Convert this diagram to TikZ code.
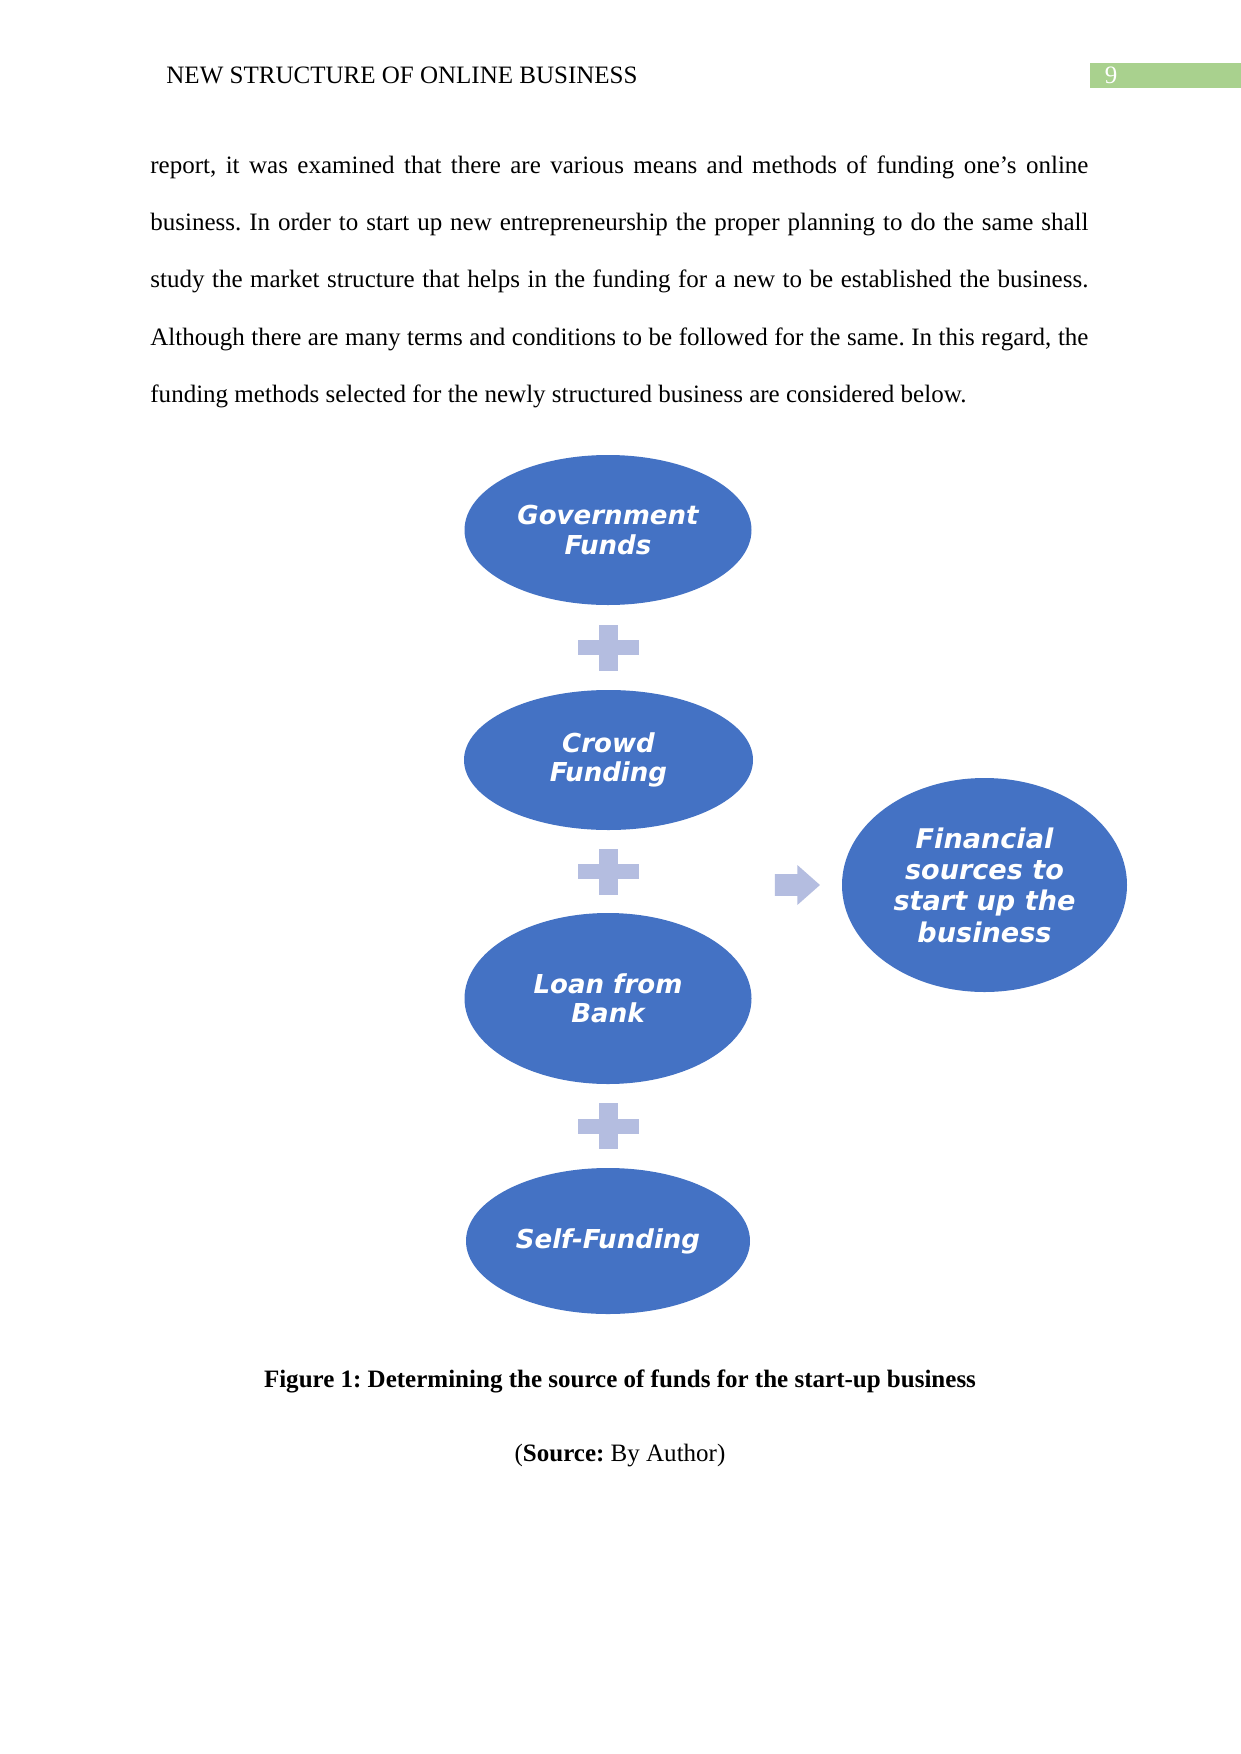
\documentclass[tikz,border=0pt]{standalone}
\usepackage{fontspec}
\setmainfont{Liberation Serif}
\newfontfamily\bubblefont{DejaVu Sans}
\usetikzlibrary{
  calc, % For midpoints between the bubbles
  shapes.geometric, % For the ellipses
  shapes.arrows % For the block arrow
}
\definecolor{bubbleblue}{HTML}{4472C4}
\definecolor{plusblue}{HTML}{B4BDE0}
\definecolor{headgreen}{HTML}{A9D18E}
\frenchspacing

\begin{document}
\begin{tikzpicture}[
      x=0.4797pt, y=-0.4797pt, % Page grid in pixels
      bubble/.style={ellipse, fill=bubbleblue, text=white, inner sep=0pt, align=center,
        font=\fontsize{12.5}{14.1}\bubblefont\bfseries\itshape}, % Funding sources
      bigbubble/.style={bubble, font=\fontsize{13}{15}\bubblefont\bfseries\itshape}, % Result
      plussign/.style={fill=plusblue}, % Style for the plus signs
      bodytext/.style={inner sep=0pt, text width=450pt, align=justify,
        font=\fontsize{12}{27.5}\selectfont}, % Running text
      plain/.style={inner sep=0pt, font=\fontsize{12}{14}\selectfont},
    ]

    % Sizes
    \def\pxu{0.4797pt}

    % Page
    \fill[white] (0,0) rectangle (1241,1754);
    \useasboundingbox (0,0) rectangle (1241,1754);

    % Header
    \node[plain, anchor=west] (title) at (166,75) {NEW STRUCTURE OF ONLINE BUSINESS};
    \fill[headgreen] (1090,63) rectangle (1241,88);
    \node[plain, text=white] (pagenum) at (1111,75) {9};

    % Text
    \node[bodytext, anchor=north west] (para) at (150,155) {report, it was examined that there are various means and methods of funding one's online\linebreak
      business. In order to start up new entrepreneurship the proper planning to do the same shall\linebreak
      study the market structure that helps in the funding for a new to be established the business.\linebreak
      Although there are many terms and conditions to be followed for the same. In this regard, the\linebreak
      funding methods selected for the newly structured business are considered below.};

    % Funding sources
    \node[bubble, minimum width=287*\pxu, minimum height=150*\pxu] (gov) at (608,530) {Government\\Funds};
    \node[bubble, minimum width=289*\pxu, minimum height=140*\pxu] (crowd) at (608.5,760) {Crowd\\Funding};
    \node[bubble, minimum width=287*\pxu, minimum height=171*\pxu] (loan) at (608,998.5) {Loan from\\Bank};
    \node[bubble, minimum width=284*\pxu, minimum height=146*\pxu] (self) at (608,1241) {Self-Funding};
    \node[bigbubble, minimum width=285*\pxu, minimum height=214*\pxu] (fin) at (984.5,885) {Financial\\sources to\\start up the\\business};

    % Plus signs
    \coordinate (p1) at ($(gov.south)!0.5!(crowd.north)$);
    \coordinate (p2) at ($(crowd.south)!0.5!(loan.north)$);
    \coordinate (p3) at ($(loan.south)!0.5!(self.north)$);
    \foreach \p in {p1, p2, p3} {
      \fill[plussign] ($(\p)+(-30.5,-7.5)$) rectangle ($(\p)+(30.5,7.5)$);
      \fill[plussign] ($(\p)+(-9.5,-23)$) rectangle ($(\p)+(9.5,23)$);
    }

    % Arrow
    \node[single arrow, fill=plusblue, inner sep=5.04pt, minimum height=45*\pxu,
      single arrow head extend=4.3pt, single arrow tip angle=83, anchor=tip] (arr)
      at ($(fin.west)+(-21,0)$) {};

    % Caption
    \node[plain, anchor=base] (cap) at (620,1387) {\textbf{Figure 1: Determining the source of funds for the start-up business}};
    \node[plain, anchor=base] (src) at (620,1461) {(\textbf{Source:} By Author)};

  \end{tikzpicture}
\end{document}
